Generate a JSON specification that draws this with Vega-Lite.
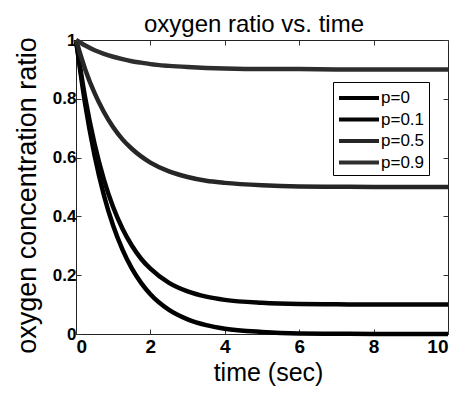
{
  "$schema": "https://vega.github.io/schema/vega-lite/v6.json",
  "width": 372,
  "height": 294,
  "autosize": {"type": "none"},
  "padding": {"left": 76, "top": 40, "right": 17, "bottom": 60},
  "background": "white",
  "title": {"text": "oxygen ratio vs. time", "fontSize": 24, "fontWeight": "normal", "font": "Liberation Sans", "color": "black", "offset": 8, "dx": -8, "dy": 33, "baseline": "alphabetic"},
  "config": {
    "view": {"stroke": "#222", "strokeWidth": 1},
    "font": "Liberation Sans",
    "axis": {"grid": false, "domain": false, "tickSize": -5, "tickColor": "#333", "labelFont": "Liberation Sans", "labelFontWeight": "bold", "labelFontSize": 19, "labelColor": "black", "titleFont": "Liberation Sans", "titleFontWeight": "normal", "titleColor": "black"}
  },
  "data": {"values": [
    {"t": 0, "ratio": 1, "p": "p=0"},
    {"t": 0.25, "ratio": 0.779, "p": "p=0"},
    {"t": 0.5, "ratio": 0.607, "p": "p=0"},
    {"t": 0.75, "ratio": 0.472, "p": "p=0"},
    {"t": 1, "ratio": 0.368, "p": "p=0"},
    {"t": 1.25, "ratio": 0.287, "p": "p=0"},
    {"t": 1.5, "ratio": 0.223, "p": "p=0"},
    {"t": 1.75, "ratio": 0.174, "p": "p=0"},
    {"t": 2, "ratio": 0.135, "p": "p=0"},
    {"t": 2.5, "ratio": 0.082, "p": "p=0"},
    {"t": 3, "ratio": 0.05, "p": "p=0"},
    {"t": 3.5, "ratio": 0.03, "p": "p=0"},
    {"t": 4, "ratio": 0.018, "p": "p=0"},
    {"t": 5, "ratio": 0.007, "p": "p=0"},
    {"t": 6, "ratio": 0.002, "p": "p=0"},
    {"t": 7, "ratio": 0.001, "p": "p=0"},
    {"t": 8, "ratio": 0, "p": "p=0"},
    {"t": 10, "ratio": 0, "p": "p=0"},
    {"t": 0, "ratio": 1, "p": "p=0.1"},
    {"t": 0.25, "ratio": 0.801, "p": "p=0.1"},
    {"t": 0.5, "ratio": 0.646, "p": "p=0.1"},
    {"t": 0.75, "ratio": 0.525, "p": "p=0.1"},
    {"t": 1, "ratio": 0.431, "p": "p=0.1"},
    {"t": 1.25, "ratio": 0.358, "p": "p=0.1"},
    {"t": 1.5, "ratio": 0.301, "p": "p=0.1"},
    {"t": 1.75, "ratio": 0.256, "p": "p=0.1"},
    {"t": 2, "ratio": 0.222, "p": "p=0.1"},
    {"t": 2.5, "ratio": 0.174, "p": "p=0.1"},
    {"t": 3, "ratio": 0.145, "p": "p=0.1"},
    {"t": 3.5, "ratio": 0.127, "p": "p=0.1"},
    {"t": 4, "ratio": 0.116, "p": "p=0.1"},
    {"t": 5, "ratio": 0.106, "p": "p=0.1"},
    {"t": 6, "ratio": 0.102, "p": "p=0.1"},
    {"t": 7, "ratio": 0.101, "p": "p=0.1"},
    {"t": 8, "ratio": 0.1, "p": "p=0.1"},
    {"t": 10, "ratio": 0.1, "p": "p=0.1"},
    {"t": 0, "ratio": 1, "p": "p=0.5"},
    {"t": 0.25, "ratio": 0.899, "p": "p=0.5"},
    {"t": 0.5, "ratio": 0.819, "p": "p=0.5"},
    {"t": 0.75, "ratio": 0.755, "p": "p=0.5"},
    {"t": 1, "ratio": 0.703, "p": "p=0.5"},
    {"t": 1.25, "ratio": 0.662, "p": "p=0.5"},
    {"t": 1.5, "ratio": 0.63, "p": "p=0.5"},
    {"t": 1.75, "ratio": 0.604, "p": "p=0.5"},
    {"t": 2, "ratio": 0.583, "p": "p=0.5"},
    {"t": 2.5, "ratio": 0.553, "p": "p=0.5"},
    {"t": 3, "ratio": 0.534, "p": "p=0.5"},
    {"t": 3.5, "ratio": 0.521, "p": "p=0.5"},
    {"t": 4, "ratio": 0.514, "p": "p=0.5"},
    {"t": 5, "ratio": 0.506, "p": "p=0.5"},
    {"t": 6, "ratio": 0.502, "p": "p=0.5"},
    {"t": 7, "ratio": 0.501, "p": "p=0.5"},
    {"t": 8, "ratio": 0.5, "p": "p=0.5"},
    {"t": 10, "ratio": 0.5, "p": "p=0.5"},
    {"t": 0, "ratio": 1, "p": "p=0.9"},
    {"t": 0.25, "ratio": 0.981, "p": "p=0.9"},
    {"t": 0.5, "ratio": 0.965, "p": "p=0.9"},
    {"t": 0.75, "ratio": 0.953, "p": "p=0.9"},
    {"t": 1, "ratio": 0.943, "p": "p=0.9"},
    {"t": 1.25, "ratio": 0.935, "p": "p=0.9"},
    {"t": 1.5, "ratio": 0.928, "p": "p=0.9"},
    {"t": 1.75, "ratio": 0.923, "p": "p=0.9"},
    {"t": 2, "ratio": 0.918, "p": "p=0.9"},
    {"t": 2.5, "ratio": 0.912, "p": "p=0.9"},
    {"t": 3, "ratio": 0.908, "p": "p=0.9"},
    {"t": 3.5, "ratio": 0.905, "p": "p=0.9"},
    {"t": 4, "ratio": 0.903, "p": "p=0.9"},
    {"t": 5, "ratio": 0.901, "p": "p=0.9"},
    {"t": 6, "ratio": 0.901, "p": "p=0.9"},
    {"t": 7, "ratio": 0.9, "p": "p=0.9"},
    {"t": 8, "ratio": 0.9, "p": "p=0.9"},
    {"t": 10, "ratio": 0.9, "p": "p=0.9"}
  ]},
  "layer": [
    {
      "mark": {"type": "line", "strokeWidth": 4.5, "interpolate": "monotone"},
      "encoding": {
        "x": {"field": "t", "type": "quantitative", "scale": {"domain": [0, 10], "nice": false},
              "axis": {"values": [0, 2, 4, 6, 8, 10], "title": "time (sec)", "titleFontSize": 25, "titleX": 192, "titleY": 46, "titleBaseline": "alphabetic", "titleAlign": "center", "labelPadding": 8, "labelBaseline": "top"}},
        "y": {"field": "ratio", "type": "quantitative", "scale": {"domain": [0, 1], "nice": false},
              "axis": {"values": [0, 0.2, 0.4, 0.6, 0.8, 1], "format": "~g", "title": "oxygen concentration ratio", "titleFontSize": 27, "titleX": -41, "titleY": 155, "titleBaseline": "alphabetic", "titleAlign": "center", "titleAngle": -90, "labelPadding": 5, "labelFontSize": 17}},
        "color": {"field": "p", "type": "nominal",
                  "scale": {"domain": ["p=0", "p=0.1", "p=0.5", "p=0.9"], "range": ["#000000", "#050505", "#262626", "#2e2e2e"]},
                  "legend": {"title": null, "orient": "none", "legendX": 257, "legendY": 42, "fillColor": "white", "strokeColor": "black", "padding": 4, "symbolType": "M-2,0H2", "symbolSize": 400, "symbolStrokeWidth": 4, "symbolOffset": 10, "labelOffset": 10, "labelFontSize": 17, "labelFont": "Liberation Sans", "labelColor": "black", "rowPadding": 1.5}}
      }
    },
    {
      "mark": {"type": "line", "opacity": 0},
      "encoding": {
        "x": {"field": "t", "type": "quantitative", "axis": {"orient": "top", "values": [0, 2, 4, 6, 8, 10], "labels": false, "title": null}},
        "y": {"field": "ratio", "type": "quantitative", "axis": {"orient": "right", "values": [0, 0.2, 0.4, 0.6, 0.8, 1], "labels": false, "title": null}}
      }
    }
  ],
  "resolve": {"axis": {"x": "independent", "y": "independent"}}
}
